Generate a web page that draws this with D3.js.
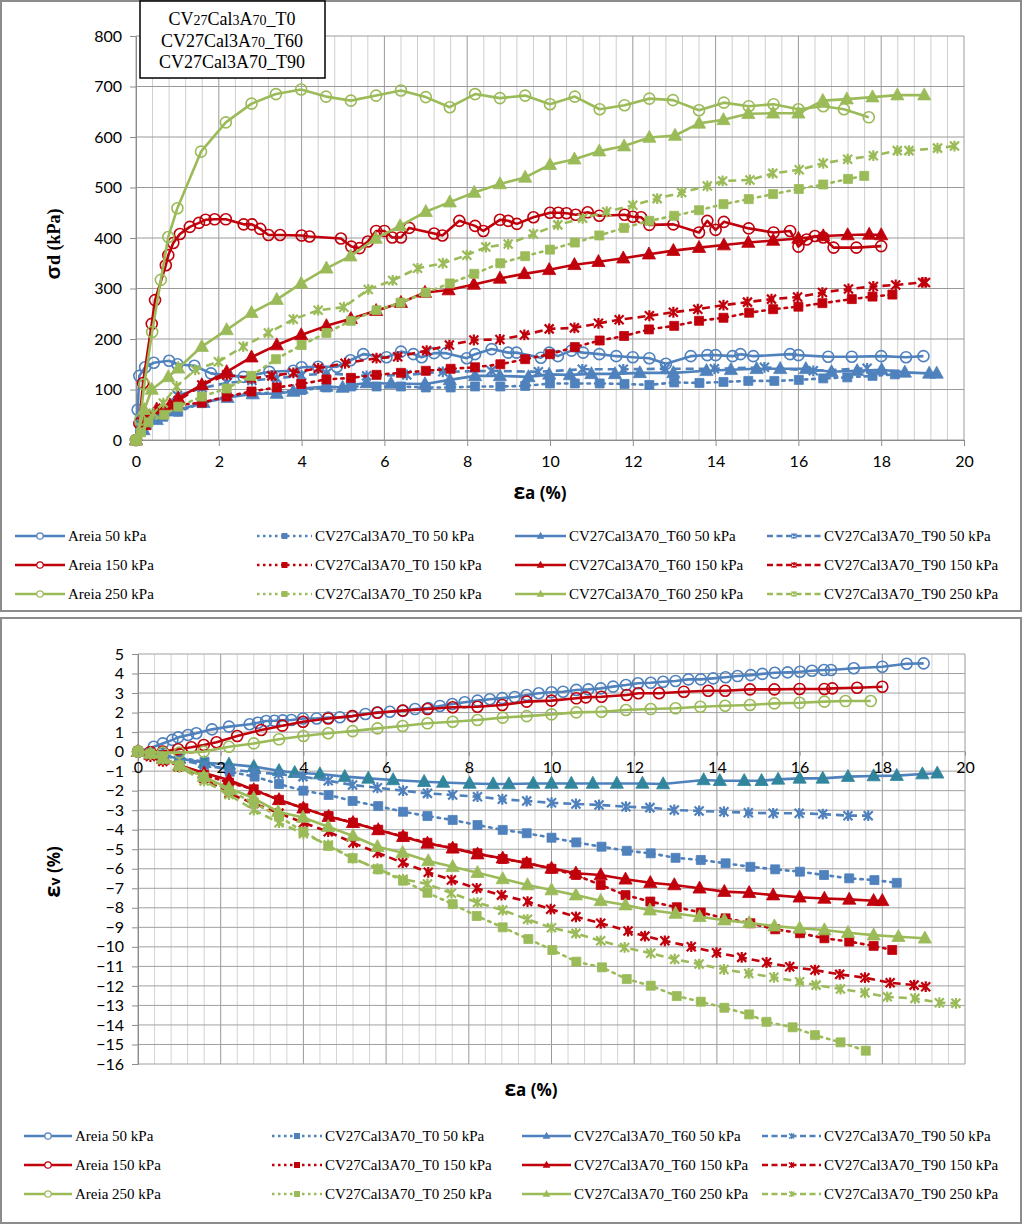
<!DOCTYPE html>
<html><head><meta charset="utf-8">
<script src="https://cdn.jsdelivr.net/npm/d3@7"></script>
<style>body{margin:0;background:#fff}svg{display:block}</style>
</head><body>
<svg id="c" width="1024" height="1225"></svg>
<script>
// ---------- DATA (εa %, value) ----------
// Top chart: σd (kPa)
const sdAreia50 = [[0,0],[0.04,60],[0.08,127],[0.22,144],[0.43,153],[0.8,157],[1.0,150],[1.41,147],[1.81,132],[2.2,128],[2.6,125],[3.22,135],[3.8,137],[4.0,144],[4.4,145],[4.85,145],[5.18,158],[5.49,170],[6.05,164],[6.4,175],[6.7,170],[6.9,164],[7.2,172],[7.49,172],[7.99,162],[8.19,170],[8.59,180],[8.99,173],[9.19,173],[9.78,163],[9.98,173],[10.19,166],[10.52,177],[10.8,173],[11.19,170],[11.6,166],[12.0,164],[12.4,162],[12.8,151],[13.4,166],[13.8,168],[14.0,168],[14.41,166],[14.6,170],[14.91,166],[15.8,170],[16.0,168],[16.72,165],[17.29,165],[18.0,166],[18.6,164],[19.02,166]];
const sdAreia150 = [[0,0],[0.08,33],[0.17,113],[0.38,230],[0.46,277],[0.72,346],[0.78,366],[0.9,390],[1.06,408],[1.3,422],[1.52,430],[1.68,436],[1.9,437],[2.17,437],[2.6,427],[2.8,427],[3.0,418],[3.2,406],[3.48,406],[4.0,405],[4.19,403],[4.95,399],[5.2,383],[5.4,380],[5.6,393],[5.8,414],[6.0,414],[6.19,401],[6.4,401],[6.6,420],[7.2,409],[7.4,405],[7.81,434],[8.19,424],[8.39,414],[8.79,436],[8.99,434],[9.2,428],[9.6,441],[10.0,450],[10.2,450],[10.4,449],[10.62,446],[10.91,451],[11.19,444],[11.8,446],[12.0,442],[12.2,441],[12.4,426],[12.98,427],[13.6,411],[13.8,434],[14.0,416],[14.2,432],[14.8,419],[15.4,411],[15.8,414],[16.0,383],[16.2,397],[16.4,404],[16.6,401],[16.85,381],[17.4,381],[18.0,384]];
const sdAreia250 = [[0,0],[0.1,40],[0.2,110],[0.39,214],[0.6,317],[0.78,402],[1.0,459],[1.57,571],[2.17,629],[2.79,666],[3.38,685],[3.99,694],[4.59,680],[5.19,672],[5.8,682],[6.4,692],[7.0,679],[7.58,659],[8.19,685],[8.79,677],[9.4,682],[10.0,665],[10.6,680],[11.2,655],[11.8,663],[12.4,676],[12.97,673],[13.6,653],[14.2,668],[14.8,661],[15.4,665],[16.0,655],[16.6,661],[17.1,655],[17.7,639]];
const sdT0_50 = [[0,0],[0.26,30],[0.66,46],[1.02,56],[1.59,73],[2.19,86],[2.79,92],[3.4,94],[4.0,99],[4.6,104],[5.19,106],[5.81,106],[6.4,106],[7.0,104],[7.6,104],[8.19,106],[8.8,106],[9.4,107],[10.0,112],[10.6,112],[11.2,112],[11.8,111],[12.4,109],[13.0,114],[13.61,113],[14.19,115],[14.79,117],[15.42,117],[16.01,119],[16.6,122],[17.18,124],[17.79,127],[18.33,130]];
const sdT0_150 = [[0,0],[0.24,46],[0.66,61],[1.02,69],[1.59,74],[2.19,86],[2.79,96],[3.4,104],[3.99,111],[4.6,120],[5.19,123],[5.81,129],[6.4,133],[7.0,137],[7.6,141],[8.19,144],[8.8,150],[9.4,160],[10.0,170],[10.6,184],[11.2,197],[11.79,206],[12.39,219],[13.0,226],[13.6,236],[14.19,242],[14.81,252],[15.39,259],[16.0,264],[16.58,271],[17.29,279],[17.79,284],[18.27,288]];
const sdT0_250 = [[0,0],[0.12,15],[0.3,35],[0.68,50],[1.02,66],[1.59,86],[2.19,102],[2.79,127],[3.38,160],[4.0,188],[4.6,212],[5.19,236],[5.81,257],[6.39,272],[7.0,292],[7.58,310],[8.17,329],[8.8,350],[9.4,364],[10.0,377],[10.6,391],[11.19,405],[11.79,420],[12.4,434],[13.0,444],[13.6,455],[14.19,467],[14.8,477],[15.39,487],[16.01,497],[16.6,506],[17.2,517],[17.59,523]];
const sdT60_50 = [[0,0],[0.18,20],[0.5,40],[0.9,57],[1.63,74],[2.21,84],[2.82,91],[3.4,92],[3.8,96],[4.0,102],[4.6,106],[4.99,104],[5.19,109],[5.57,113],[6.16,112],[6.98,111],[7.58,119],[8.19,127],[8.79,127],[9.48,125],[9.98,130],[10.48,129],[11.0,131],[11.57,131],[12.17,133],[12.98,133],[13.78,137],[14.37,139],[14.99,141],[15.56,141],[16.18,141],[16.8,135],[17.42,137],[18.01,139],[18.57,134],[19.16,132],[19.34,132]];
const sdT60_150 = [[0,0],[0.2,30],[0.5,61],[0.82,69],[1.02,83],[1.59,109],[2.19,135],[2.79,164],[3.4,188],[3.99,208],[4.6,226],[5.19,240],[5.8,256],[6.4,272],[6.98,292],[7.55,297],[8.16,308],[8.79,320],[9.38,329],[9.98,337],[10.59,347],[11.17,353],[11.77,360],[12.39,368],[12.98,375],[13.6,381],[14.2,386],[14.79,391],[15.39,395],[16.0,399],[16.6,404],[17.19,406],[17.71,407],[18.0,406]];
const sdT60_250 = [[0,0],[0.2,60],[0.38,100],[0.78,125],[1.02,142],[1.59,185],[2.19,218],[2.79,252],[3.4,278],[3.99,310],[4.6,340],[5.18,364],[5.79,399],[6.38,424],[7.0,452],[7.58,471],[8.17,490],[8.79,507],[9.4,520],[10.0,545],[10.59,556],[11.19,572],[11.79,582],[12.4,599],[13.02,603],[13.6,627],[14.19,634],[14.79,646],[15.39,647],[16.0,647],[16.59,672],[17.17,675],[17.79,679],[18.39,683],[19.04,683]];
const sdT90_50 = [[0,0],[0.18,23],[0.5,55],[1.0,88],[1.6,103],[2.2,113],[2.8,118],[3.4,122],[4.0,128],[4.6,132],[5.57,127],[6.54,129],[7.41,135],[8.58,137],[9.72,135],[10.78,140],[11.77,140],[12.78,141],[13.97,141],[15.18,144],[16.36,137],[17.66,142]];
const sdT90_150 = [[0,0],[0.3,50],[0.66,63],[1.02,78],[1.59,109],[2.19,129],[2.79,122],[3.28,127],[3.8,133],[4.4,142],[5.05,152],[5.81,162],[6.32,165],[7.02,177],[7.57,188],[8.16,198],[8.79,199],[9.38,208],[9.98,220],[10.59,222],[11.17,231],[11.67,238],[12.4,246],[12.98,253],[13.57,259],[14.19,267],[14.77,273],[15.35,279],[15.98,283],[16.58,292],[17.21,299],[17.81,304],[18.35,307],[19.0,312],[19.07,312]];
const sdT90_250 = [[0,0],[0.42,53],[0.66,73],[0.98,106],[1.43,139],[1.99,155],[2.59,185],[3.2,212],[3.8,239],[4.4,257],[5.02,263],[5.61,298],[6.2,316],[6.8,340],[7.41,350],[7.99,366],[8.45,382],[8.99,388],[9.6,408],[10.19,426],[10.79,439],[11.37,452],[12.0,465],[12.59,478],[13.18,490],[13.8,503],[14.17,513],[14.83,515],[15.38,528],[16.02,535],[16.6,548],[17.19,556],[17.81,563],[18.39,573],[18.67,573],[19.36,578],[19.77,582]];

// Bottom chart: εv (%)
const evAreia50 = [[0,0],[0.38,0.25],[0.6,0.42],[0.83,0.6],[0.97,0.73],[1.21,0.85],[1.41,0.94],[1.79,1.14],[2.2,1.28],[2.7,1.4],[2.9,1.48],[3.1,1.57],[3.3,1.58],[3.5,1.6],[3.71,1.62],[3.99,1.7],[4.32,1.7],[4.6,1.74],[4.88,1.76],[5.2,1.82],[5.5,1.93],[5.79,2.01],[6.09,2.04],[6.41,2.1],[6.7,2.18],[7.02,2.23],[7.3,2.34],[7.6,2.44],[7.9,2.53],[8.21,2.61],[8.51,2.68],[8.81,2.74],[9.11,2.8],[9.4,2.9],[9.69,2.99],[10.0,3.04],[10.28,3.07],[10.6,3.16],[10.89,3.19],[11.19,3.24],[11.49,3.33],[11.8,3.41],[12.09,3.5],[12.4,3.53],[12.7,3.58],[13.0,3.62],[13.31,3.7],[13.61,3.7],[13.91,3.75],[14.21,3.81],[14.5,3.87],[14.82,3.92],[15.1,3.98],[15.4,4.04],[15.71,4.06],[16.01,4.09],[16.3,4.14],[16.59,4.18],[16.76,4.18],[17.31,4.27],[18.0,4.35],[18.59,4.5],[19.0,4.52]];
const evAreia150 = [[0,0],[0.3,-0.02],[0.6,0],[0.97,0.12],[1.29,0.22],[1.59,0.34],[1.9,0.48],[2.4,0.8],[2.98,1.11],[3.49,1.33],[3.99,1.53],[4.6,1.7],[5.18,1.82],[5.79,1.99],[6.4,2.1],[7.0,2.18],[7.61,2.27],[8.21,2.3],[8.81,2.39],[9.4,2.56],[10.0,2.61],[10.6,2.73],[10.83,2.78],[11.21,2.81],[11.82,2.9],[12.1,2.99],[12.6,2.99],[13.2,3.07],[13.79,3.12],[14.2,3.12],[14.8,3.19],[15.39,3.19],[16.0,3.21],[16.6,3.21],[16.79,3.24],[17.39,3.27],[18.0,3.32]];
const evAreia250 = [[0,0],[0.6,-0.05],[1.0,-0.05],[1.59,0],[2.2,0.25],[2.8,0.42],[3.41,0.63],[4.0,0.8],[4.6,0.94],[5.19,1.05],[5.79,1.19],[6.4,1.31],[7.0,1.45],[7.61,1.53],[8.21,1.62],[8.82,1.74],[9.4,1.82],[10.0,1.91],[10.6,2.01],[11.21,2.04],[11.8,2.13],[12.4,2.18],[13.0,2.22],[13.6,2.3],[14.2,2.35],[14.8,2.39],[15.39,2.47],[16.0,2.5],[16.6,2.56],[17.11,2.59],[17.72,2.59]];
const evT0_50 = [[0,0],[0.3,-0.05],[0.6,-0.15],[1.0,-0.3],[1.61,-0.52],[2.22,-1.03],[2.82,-1.28],[3.41,-1.66],[4.0,-2.0],[4.61,-2.22],[5.19,-2.53],[5.81,-2.79],[6.41,-3.08],[7.0,-3.3],[7.61,-3.5],[8.21,-3.76],[8.82,-4.01],[9.4,-4.18],[10.0,-4.41],[10.6,-4.65],[11.21,-4.87],[11.82,-5.08],[12.4,-5.21],[13.0,-5.44],[13.61,-5.55],[14.21,-5.72],[14.81,-5.9],[15.41,-6.03],[16.01,-6.15],[16.59,-6.32],[17.2,-6.49],[17.81,-6.58],[18.35,-6.72]];
const evT0_150 = [[0,0],[0.3,-0.15],[0.6,-0.4],[1.0,-0.75],[1.6,-1.2],[2.2,-1.59],[2.8,-1.93],[3.41,-2.47],[4.0,-2.9],[4.61,-3.3],[5.2,-3.64],[5.81,-4.0],[6.41,-4.35],[7.0,-4.67],[7.61,-4.95],[8.21,-5.21],[8.82,-5.5],[9.4,-5.69],[10.0,-6.0],[10.59,-6.32],[11.19,-6.83],[11.79,-7.35],[12.39,-7.68],[13.03,-7.97],[13.61,-8.24],[14.21,-8.54],[14.81,-8.79],[15.41,-9.1],[16.01,-9.3],[16.6,-9.56],[17.2,-9.73],[17.79,-9.95],[18.24,-10.16]];
const evT0_250 = [[0,0],[0.3,-0.1],[0.6,-0.35],[1.0,-0.7],[1.59,-1.3],[2.2,-2.0],[2.8,-2.62],[3.41,-3.33],[4.0,-4.1],[4.6,-4.83],[5.19,-5.46],[5.81,-6.03],[6.41,-6.61],[7.0,-7.23],[7.61,-7.81],[8.19,-8.42],[8.82,-9.0],[9.44,-9.6],[10.02,-10.16],[10.6,-10.76],[11.22,-11.05],[11.82,-11.65],[12.4,-11.99],[13.03,-12.52],[13.61,-12.81],[14.18,-13.12],[14.78,-13.46],[15.2,-13.84],[15.83,-14.12],[16.37,-14.52],[16.99,-14.89],[17.6,-15.32]];
const evT60_50 = [[0,0],[0.3,-0.1],[0.6,-0.2],[1.0,-0.35],[1.61,-0.57],[2.2,-0.65],[2.8,-0.77],[3.41,-0.98],[3.79,-1.08],[4.4,-1.15],[5.0,-1.28],[5.57,-1.37],[6.17,-1.45],[6.92,-1.54],[7.38,-1.58],[8.02,-1.63],[8.59,-1.66],[8.97,-1.66],[9.56,-1.63],[10.0,-1.63],[10.48,-1.63],[11.0,-1.63],[11.58,-1.63],[12.2,-1.63],[12.7,-1.66],[13.68,-1.45],[14.07,-1.49],[14.66,-1.49],[15.08,-1.49],[15.48,-1.42],[16.0,-1.37],[16.56,-1.37],[17.17,-1.28],[17.79,-1.25],[18.35,-1.23],[18.97,-1.15],[19.33,-1.11]];
const evT60_150 = [[0,0],[0.3,-0.15],[0.6,-0.35],[1.0,-0.7],[1.6,-1.1],[2.2,-1.45],[2.8,-1.96],[3.41,-2.47],[4.0,-2.9],[4.61,-3.33],[5.2,-3.64],[5.81,-4.01],[6.41,-4.36],[7.0,-4.7],[7.61,-4.95],[8.21,-5.25],[8.82,-5.46],[9.4,-5.72],[10.0,-5.98],[10.59,-6.23],[11.19,-6.32],[11.79,-6.54],[12.39,-6.72],[12.97,-6.83],[13.58,-7.0],[14.18,-7.17],[14.78,-7.23],[15.36,-7.35],[16.0,-7.46],[16.6,-7.52],[17.2,-7.57],[17.79,-7.64],[18.0,-7.64]];
const evT60_250 = [[0,0],[0.3,-0.1],[0.6,-0.35],[1.0,-0.7],[1.59,-1.28],[2.2,-1.88],[2.8,-2.39],[3.39,-3.08],[3.99,-3.37],[4.6,-3.85],[5.2,-4.32],[5.79,-4.87],[6.4,-5.18],[7.02,-5.6],[7.61,-5.9],[8.21,-6.2],[8.82,-6.52],[9.42,-6.83],[10.0,-7.09],[10.59,-7.35],[11.19,-7.64],[11.79,-7.86],[12.38,-8.12],[13.0,-8.29],[13.58,-8.46],[14.18,-8.63],[14.78,-8.77],[15.39,-8.94],[16.0,-9.05],[16.6,-9.14],[17.17,-9.28],[17.79,-9.4],[18.39,-9.48],[19.03,-9.56]];
const evT90_50 = [[0,0],[0.6,-0.2],[1.0,-0.4],[1.6,-0.7],[2.2,-0.9],[2.8,-1.05],[3.4,-1.15],[3.99,-1.28],[4.6,-1.49],[5.19,-1.71],[5.79,-1.85],[6.41,-2.0],[7.0,-2.14],[7.61,-2.22],[8.21,-2.31],[8.81,-2.44],[9.4,-2.53],[10.0,-2.62],[10.59,-2.68],[11.15,-2.73],[11.8,-2.82],[12.38,-2.87],[12.97,-2.99],[13.57,-3.04],[14.17,-3.08],[14.76,-3.13],[15.36,-3.16],[15.99,-3.16],[16.56,-3.2],[17.17,-3.28],[17.66,-3.28]];
const evT90_150 = [[0,0],[0.3,-0.25],[0.6,-0.5],[0.97,-0.77],[1.59,-1.37],[2.2,-2.14],[2.8,-2.65],[3.41,-3.15],[4.0,-3.64],[4.6,-4.1],[5.2,-4.67],[5.79,-5.18],[6.4,-5.69],[7.02,-6.18],[7.58,-6.58],[8.19,-7.0],[8.79,-7.35],[9.42,-7.68],[9.98,-8.07],[10.59,-8.46],[11.19,-8.79],[11.85,-9.19],[12.26,-9.45],[12.74,-9.69],[13.38,-9.99],[13.99,-10.3],[14.6,-10.54],[15.2,-10.8],[15.76,-11.02],[16.37,-11.19],[16.97,-11.41],[17.58,-11.58],[18.19,-11.84],[18.77,-11.96],[19.05,-12.04]];
const evT90_250 = [[0,0],[0.3,-0.15],[0.6,-0.4],[1.0,-0.8],[1.6,-1.5],[2.2,-2.2],[2.8,-2.99],[3.41,-3.64],[4.0,-4.2],[4.6,-4.78],[5.19,-5.46],[5.79,-6.0],[6.41,-6.54],[7.0,-6.78],[7.58,-7.25],[8.21,-7.73],[8.82,-8.12],[9.42,-8.59],[10.0,-9.02],[10.59,-9.31],[11.19,-9.69],[11.77,-10.03],[12.4,-10.33],[12.98,-10.63],[13.57,-10.88],[14.17,-11.16],[14.77,-11.36],[15.38,-11.56],[16.0,-11.79],[16.4,-11.96],[16.99,-12.16],[17.58,-12.35],[18.12,-12.56],[18.79,-12.64],[19.38,-12.86],[19.78,-12.89]];

// Labels
const seriesNames = ["Areia 50 kPa","CV27Cal3A70_T0 50 kPa","CV27Cal3A70_T60 50 kPa","CV27Cal3A70_T90 50 kPa",
  "Areia 150 kPa","CV27Cal3A70_T0 150 kPa","CV27Cal3A70_T60 150 kPa","CV27Cal3A70_T90 150 kPa",
  "Areia 250 kPa","CV27Cal3A70_T0 250 kPa","CV27Cal3A70_T60 250 kPa","CV27Cal3A70_T90 250 kPa"];
const topSeries = [sdAreia50,sdT0_50,sdT60_50,sdT90_50,sdAreia150,sdT0_150,sdT60_150,sdT90_150,sdAreia250,sdT0_250,sdT60_250,sdT90_250];
const botSeries = [evAreia50,evT0_50,evT60_50,evT90_50,evAreia150,evT0_150,evT60_150,evT90_150,evAreia250,evT0_250,evT60_250,evT90_250];
const xTicks = [0,2,4,6,8,10,12,14,16,18,20];
const sdTicks = [0,100,200,300,400,500,600,700,800];
const evTicks = d3.range(-16,6,1);

// ---------- STYLE ----------
const colors = ["#4F81BD","#C0000B","#9BBB59"];
const markers = ["circle","square","triangle","star"];
const dashes = [null,"2,5","none-solid","8,5"];

const svg = d3.select("#c");
const FONT_TICK = "Lato, 'Open Sans', sans-serif";
const FONT_SERIF = "'Liberation Serif','Times New Roman',serif";

// panel frames
svg.append("rect").attr("x",1).attr("y",1).attr("width",1020).attr("height",610)
  .attr("fill","#fff").attr("stroke","#8c8c8c").attr("stroke-width",2);
svg.append("rect").attr("x",1).attr("y",618).attr("width",1020).attr("height",605)
  .attr("fill","#fff").attr("stroke","#8c8c8c").attr("stroke-width",2);

function markerPath(type, s){
  if(type==="square") return `M${-s/2},${-s/2}h${s}v${s}h${-s}Z`;
  if(type==="triangle") return `M0,${-s*0.6}L${s*0.55},${s*0.4}L${-s*0.55},${s*0.4}Z`;
  if(type==="star"){const a=s/2; return `M${-a},${-a}L${a},${a}M${-a},${a}L${a},${-a}M0,${-a*1.2}L0,${a*1.2}`;}
  return null;
}
function drawMarker(g, type, color, x, y, size, altFill){
  const fc = altFill || color;
  if(type==="circle"){
    g.append("circle").attr("cx",x).attr("cy",y).attr("r",size/2)
      .attr("fill","none").attr("stroke",color).attr("stroke-width",1.6);
  } else if(type==="star"){
    g.append("path").attr("d",markerPath(type,size)).attr("transform",`translate(${x},${y})`)
      .attr("fill","none").attr("stroke",fc).attr("stroke-width",2.2);
  } else {
    g.append("path").attr("d",markerPath(type,size)).attr("transform",`translate(${x},${y})`)
      .attr("fill",fc).attr("stroke",fc).attr("stroke-width",0.8);
  }
}
const markerSize = {circle:11, square:9, triangle:12, star:9};

function drawSeries(g, x, y, seriesArr, tealT60){
  seriesArr.forEach((data,i)=>{
    const color = colors[Math.floor(i/4)];
    const k = i%4;
    const line = d3.line().x(d=>x(d[0])).y(d=>y(d[1]));
    const p = g.append("path").datum(data).attr("d",line).attr("fill","none")
      .attr("stroke",color).attr("stroke-width",2.6).attr("stroke-linejoin","round");
    if(k===1) p.attr("stroke-dasharray","2.5,5").attr("stroke-linecap","round");
    if(k===3) p.attr("stroke-dasharray","8,5");
    const mg = g.append("g");
    const alt = (tealT60 && i===2) ? "#31859C" : null;
    data.forEach(d=>drawMarker(mg, markers[k], color, x(d[0]), y(d[1]), markerSize[markers[k]], alt));
  });
}

function drawLegend(cols, rows, lineLen){
  seriesNames.forEach((name,i)=>{
    const r = Math.floor(i/4), c = i%4;
    const color = colors[r], k = c;
    const x0 = cols[c], y0 = rows[r];
    const g = svg.append("g");
    const l = g.append("line").attr("x1",x0).attr("x2",x0+lineLen[c]).attr("y1",y0).attr("y2",y0)
      .attr("stroke",color).attr("stroke-width",2.6);
    if(k===1) l.attr("stroke-dasharray","2.5,3.5");
    if(k===3) l.attr("stroke-dasharray","6,3.5");
    const mx = x0+lineLen[c]/2;
    if(k===0) g.append("circle").attr("cx",mx).attr("cy",y0).attr("r",3.2).attr("fill","#fff").attr("stroke",color).attr("stroke-width",1.2);
    else if(k===3) g.append("path").attr("d",markerPath("star",5)).attr("transform",`translate(${mx},${y0})`).attr("fill","none").attr("stroke",color).attr("stroke-width",1.3);
    else g.append("path").attr("d",markerPath(markers[k],k===2?7:6)).attr("transform",`translate(${mx},${y0})`).attr("fill",color);
    g.append("text").attr("x",x0+lineLen[c]+3).attr("y",y0+5).text(name)
      .attr("font-family",FONT_SERIF).attr("font-size",15).attr("fill","#000")
      .attr("textLength", null);
  });
}

// ---------- TOP CHART ----------
{
  const x = d3.scaleLinear().domain([0,20]).range([136,964]);
  const y = d3.scaleLinear().domain([0,800]).range([440,36]);
  const g = svg.append("g");
  // minor vertical grid
  d3.range(0,20.01,0.4).forEach(v=>{
    const isMaj = Math.abs(v/2-Math.round(v/2))<1e-6;
    g.append("line").attr("x1",x(v)).attr("x2",x(v)).attr("y1",y(0)).attr("y2",y(800))
      .attr("stroke",isMaj?"#9a9a9a":"#cfcfcf").attr("stroke-width",1);
  });
  sdTicks.forEach(v=>{
    g.append("line").attr("x1",x(0)).attr("x2",x(20)).attr("y1",y(v)).attr("y2",y(v))
      .attr("stroke","#9a9a9a").attr("stroke-width",1);
  });
  const yAxis = d3.axisLeft(y).tickValues(sdTicks).tickSize(6).tickPadding(8);
  const ya = g.append("g").attr("transform",`translate(${x(0)},0)`).call(yAxis);
  const xAxis = d3.axisBottom(x).tickValues(xTicks).tickSize(6).tickPadding(10);
  const xa = g.append("g").attr("transform",`translate(0,${y(0)})`).call(xAxis);
  [ya,xa].forEach(a=>{
    a.selectAll("path,line").attr("stroke","#8c8c8c");
    a.selectAll("text").attr("font-family",FONT_TICK).attr("font-size",16).attr("fill","#000");
  });
  drawSeries(g, x, y, topSeries, false);

  // axis titles
  const yt = svg.append("text").attr("transform","translate(60,244) rotate(-90)")
    .attr("text-anchor","middle").attr("font-weight","bold").attr("fill","#000");
  yt.append("tspan").text("σ").attr("font-family","'Liberation Sans',sans-serif").attr("font-size",21);
  yt.append("tspan").text("d (kPa)").attr("font-family",FONT_SERIF).attr("font-size",18);
  const xt = svg.append("text").attr("x",540).attr("y",499).attr("text-anchor","middle")
    .attr("font-weight","bold").attr("fill","#000").attr("font-family","'Open Sans',sans-serif");
  xt.append("tspan").text("ε").attr("font-size",21);
  xt.append("tspan").text("a (%)").attr("font-size",17);

  // title box
  svg.append("rect").attr("x",140).attr("y",1).attr("width",185).attr("height",77)
    .attr("fill","#fff").attr("stroke","#000").attr("stroke-width",1.5);
  const lines = [
    [["CV",18],["27",14],["Cal",18],["3",14],["A",18],["70",14],["_T0",18]],
    [["CV27Cal3A",18],["70",14],["_T60",18]],
    [["CV27Cal3A70_T90",18]]
  ];
  lines.forEach((ln,i)=>{
    const t = svg.append("text").attr("x",232).attr("y",25+i*21.5).attr("text-anchor","middle")
      .attr("font-family",FONT_SERIF).attr("fill","#000");
    ln.forEach(s=>t.append("tspan").text(s[0]).attr("font-size",s[1]));
  });
  drawLegend([15,257,515,767],[536,565,594],[50,55,51,54]);
}

// ---------- BOTTOM CHART ----------
{
  const x = d3.scaleLinear().domain([0,20]).range([138,965]);
  const y = d3.scaleLinear().domain([-16,5]).range([1064,654]);
  const g = svg.append("g");
  d3.range(0,20.01,0.4).forEach(v=>{
    const isMaj = Math.abs(v/2-Math.round(v/2))<1e-6;
    g.append("line").attr("x1",x(v)).attr("x2",x(v)).attr("y1",y(-16)).attr("y2",y(5))
      .attr("stroke",isMaj?"#9a9a9a":"#d4d4d4").attr("stroke-width",1);
  });
  evTicks.forEach(v=>{
    g.append("line").attr("x1",x(0)).attr("x2",x(20)).attr("y1",y(v)).attr("y2",y(v))
      .attr("stroke","#a0a0a0").attr("stroke-width",1);
  });
  const yAxis = d3.axisLeft(y).tickValues(evTicks).tickSize(6).tickPadding(8);
  const ya = g.append("g").attr("transform",`translate(${x(0)},0)`).call(yAxis);
  const xAxis = d3.axisBottom(x).tickValues(xTicks).tickSize(4).tickPadding(6);
  const xa = g.append("g").attr("transform",`translate(0,${y(0)})`).call(xAxis);
  [ya,xa].forEach(a=>{
    a.selectAll("path,line").attr("stroke","#8c8c8c");
    a.selectAll("text").attr("font-family",FONT_TICK).attr("font-size",16).attr("fill","#000");
  });
  drawSeries(g, x, y, botSeries, true);
  // x tick labels drawn above data as in reference
  xa.raise();
  xa.select(".domain").remove();

  const yt = svg.append("text").attr("transform","translate(60,872) rotate(-90)")
    .attr("text-anchor","middle").attr("font-weight","bold").attr("fill","#000").attr("font-family","'Open Sans',sans-serif");
  yt.append("tspan").text("ε").attr("font-size",22);
  yt.append("tspan").text("v").attr("font-size",14);
  yt.append("tspan").text(" (%)").attr("font-size",17);
  const xt = svg.append("text").attr("x",531).attr("y",1096).attr("text-anchor","middle")
    .attr("font-weight","bold").attr("fill","#000").attr("font-family","'Open Sans',sans-serif");
  xt.append("tspan").text("ε").attr("font-size",21);
  xt.append("tspan").text("a (%)").attr("font-size",17);

  drawLegend([24,272,522,762],[1136,1165,1194],[48,50,49,59]);
}
</script>
</body></html>
